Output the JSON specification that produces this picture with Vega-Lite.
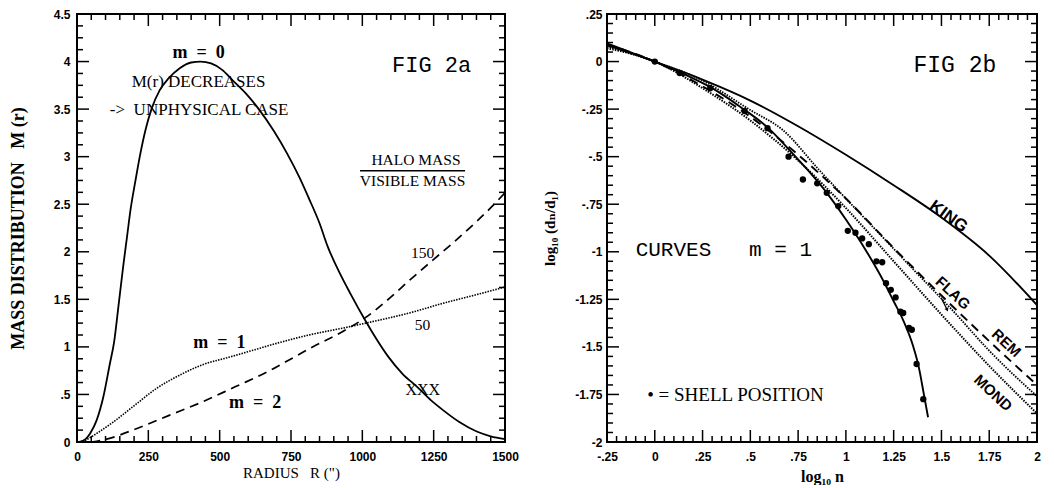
{
  "$schema": "https://vega.github.io/schema/vega-lite/v6.json",
  "background": "white",
  "padding": {"left": 8, "top": 7, "right": 4, "bottom": 0},
  "bounds": "flush",
  "spacing": 102,
  "config": {
    "view": {"stroke": "black", "strokeWidth": 2},
    "axis": {
      "domain": false, "grid": false, "ticks": false,
      "labelFont": "Liberation Sans", "labelFontWeight": "bold", "labelFontSize": 12, "labelColor": "black",
      "labelOverlap": false, "labelFlush": false,
      "titleFont": "Liberation Serif, DejaVu Serif", "titleColor": "black", "titleFontSize": 15, "titleFontWeight": "bold"
    }
  },
  "datasets": {
    "a_xt": [
      {"v": 0, "k": "M"}, {"v": 50, "k": "m"}, {"v": 100, "k": "m"}, {"v": 150, "k": "m"}, {"v": 200, "k": "m"},
      {"v": 250, "k": "M"}, {"v": 300, "k": "m"}, {"v": 350, "k": "m"}, {"v": 400, "k": "m"}, {"v": 450, "k": "m"},
      {"v": 500, "k": "M"}, {"v": 550, "k": "m"}, {"v": 600, "k": "m"}, {"v": 650, "k": "m"}, {"v": 700, "k": "m"},
      {"v": 750, "k": "M"}, {"v": 800, "k": "m"}, {"v": 850, "k": "m"}, {"v": 900, "k": "m"}, {"v": 950, "k": "m"},
      {"v": 1000, "k": "M"}, {"v": 1050, "k": "m"}, {"v": 1100, "k": "m"}, {"v": 1150, "k": "m"}, {"v": 1200, "k": "m"},
      {"v": 1250, "k": "M"}, {"v": 1300, "k": "m"}, {"v": 1350, "k": "m"}, {"v": 1400, "k": "m"}, {"v": 1450, "k": "m"},
      {"v": 1500, "k": "M"}
    ],
    "a_yt": [
      {"v": 0, "k": "M"}, {"v": 0.125, "k": "m"}, {"v": 0.25, "k": "m"}, {"v": 0.375, "k": "m"},
      {"v": 0.5, "k": "M"}, {"v": 0.625, "k": "m"}, {"v": 0.75, "k": "m"}, {"v": 0.875, "k": "m"},
      {"v": 1, "k": "M"}, {"v": 1.125, "k": "m"}, {"v": 1.25, "k": "m"}, {"v": 1.375, "k": "m"},
      {"v": 1.5, "k": "M"}, {"v": 1.625, "k": "m"}, {"v": 1.75, "k": "m"}, {"v": 1.875, "k": "m"},
      {"v": 2, "k": "M"}, {"v": 2.125, "k": "m"}, {"v": 2.25, "k": "m"}, {"v": 2.375, "k": "m"},
      {"v": 2.5, "k": "M"}, {"v": 2.625, "k": "m"}, {"v": 2.75, "k": "m"}, {"v": 2.875, "k": "m"},
      {"v": 3, "k": "M"}, {"v": 3.125, "k": "m"}, {"v": 3.25, "k": "m"}, {"v": 3.375, "k": "m"},
      {"v": 3.5, "k": "M"}, {"v": 3.625, "k": "m"}, {"v": 3.75, "k": "m"}, {"v": 3.875, "k": "m"},
      {"v": 4, "k": "M"}, {"v": 4.125, "k": "m"}, {"v": 4.25, "k": "m"}, {"v": 4.375, "k": "m"},
      {"v": 4.5, "k": "M"}
    ],
    "b_xt": [
      {"v": -0.25, "k": "M"}, {"v": -0.2, "k": "m"}, {"v": -0.15, "k": "m"}, {"v": -0.1, "k": "m"}, {"v": -0.05, "k": "m"},
      {"v": 0, "k": "M"}, {"v": 0.05, "k": "m"}, {"v": 0.1, "k": "m"}, {"v": 0.15, "k": "m"}, {"v": 0.2, "k": "m"},
      {"v": 0.25, "k": "M"}, {"v": 0.3, "k": "m"}, {"v": 0.35, "k": "m"}, {"v": 0.4, "k": "m"}, {"v": 0.45, "k": "m"},
      {"v": 0.5, "k": "M"}, {"v": 0.55, "k": "m"}, {"v": 0.6, "k": "m"}, {"v": 0.65, "k": "m"}, {"v": 0.7, "k": "m"},
      {"v": 0.75, "k": "M"}, {"v": 0.8, "k": "m"}, {"v": 0.85, "k": "m"}, {"v": 0.9, "k": "m"}, {"v": 0.95, "k": "m"},
      {"v": 1, "k": "M"}, {"v": 1.05, "k": "m"}, {"v": 1.1, "k": "m"}, {"v": 1.15, "k": "m"}, {"v": 1.2, "k": "m"},
      {"v": 1.25, "k": "M"}, {"v": 1.3, "k": "m"}, {"v": 1.35, "k": "m"}, {"v": 1.4, "k": "m"}, {"v": 1.45, "k": "m"},
      {"v": 1.5, "k": "M"}, {"v": 1.55, "k": "m"}, {"v": 1.6, "k": "m"}, {"v": 1.65, "k": "m"}, {"v": 1.7, "k": "m"},
      {"v": 1.75, "k": "M"}, {"v": 1.8, "k": "m"}, {"v": 1.85, "k": "m"}, {"v": 1.9, "k": "m"}, {"v": 1.95, "k": "m"},
      {"v": 2, "k": "M"}
    ],
    "b_yt": [
      {"v": -2, "k": "M"}, {"v": -1.95, "k": "m"}, {"v": -1.9, "k": "m"}, {"v": -1.85, "k": "m"}, {"v": -1.8, "k": "m"},
      {"v": -1.75, "k": "M"}, {"v": -1.7, "k": "m"}, {"v": -1.65, "k": "m"}, {"v": -1.6, "k": "m"}, {"v": -1.55, "k": "m"},
      {"v": -1.5, "k": "M"}, {"v": -1.45, "k": "m"}, {"v": -1.4, "k": "m"}, {"v": -1.35, "k": "m"}, {"v": -1.3, "k": "m"},
      {"v": -1.25, "k": "M"}, {"v": -1.2, "k": "m"}, {"v": -1.15, "k": "m"}, {"v": -1.1, "k": "m"}, {"v": -1.05, "k": "m"},
      {"v": -1, "k": "M"}, {"v": -0.95, "k": "m"}, {"v": -0.9, "k": "m"}, {"v": -0.85, "k": "m"}, {"v": -0.8, "k": "m"},
      {"v": -0.75, "k": "M"}, {"v": -0.7, "k": "m"}, {"v": -0.65, "k": "m"}, {"v": -0.6, "k": "m"}, {"v": -0.55, "k": "m"},
      {"v": -0.5, "k": "M"}, {"v": -0.45, "k": "m"}, {"v": -0.4, "k": "m"}, {"v": -0.35, "k": "m"}, {"v": -0.3, "k": "m"},
      {"v": -0.25, "k": "M"}, {"v": -0.2, "k": "m"}, {"v": -0.15, "k": "m"}, {"v": -0.1, "k": "m"}, {"v": -0.05, "k": "m"},
      {"v": 0, "k": "M"}, {"v": 0.05, "k": "m"}, {"v": 0.1, "k": "m"}, {"v": 0.15, "k": "m"}, {"v": 0.2, "k": "m"},
      {"v": 0.25, "k": "M"}
    ],
    "a_curves": [
      {"series": "m0", "r": 8, "m": 0}, {"series": "m0", "r": 30, "m": 0.03}, {"series": "m0", "r": 46, "m": 0.09},
      {"series": "m0", "r": 69, "m": 0.23}, {"series": "m0", "r": 92, "m": 0.47}, {"series": "m0", "r": 115, "m": 0.82},
      {"series": "m0", "r": 130, "m": 1.05}, {"series": "m0", "r": 145, "m": 1.42}, {"series": "m0", "r": 162, "m": 1.85},
      {"series": "m0", "r": 175, "m": 2.15}, {"series": "m0", "r": 188, "m": 2.45}, {"series": "m0", "r": 205, "m": 2.75},
      {"series": "m0", "r": 220, "m": 3.0}, {"series": "m0", "r": 240, "m": 3.28}, {"series": "m0", "r": 261, "m": 3.5},
      {"series": "m0", "r": 290, "m": 3.7}, {"series": "m0", "r": 320, "m": 3.82}, {"series": "m0", "r": 360, "m": 3.93},
      {"series": "m0", "r": 400, "m": 3.99}, {"series": "m0", "r": 433, "m": 4.0}, {"series": "m0", "r": 470, "m": 3.98},
      {"series": "m0", "r": 510, "m": 3.91}, {"series": "m0", "r": 543, "m": 3.81}, {"series": "m0", "r": 590, "m": 3.67},
      {"series": "m0", "r": 637, "m": 3.5}, {"series": "m0", "r": 690, "m": 3.27}, {"series": "m0", "r": 737, "m": 3.03},
      {"series": "m0", "r": 780, "m": 2.78}, {"series": "m0", "r": 813, "m": 2.56}, {"series": "m0", "r": 850, "m": 2.3},
      {"series": "m0", "r": 878, "m": 2.06}, {"series": "m0", "r": 920, "m": 1.78}, {"series": "m0", "r": 960, "m": 1.55},
      {"series": "m0", "r": 1010, "m": 1.28}, {"series": "m0", "r": 1050, "m": 1.08}, {"series": "m0", "r": 1090, "m": 0.9},
      {"series": "m0", "r": 1140, "m": 0.72}, {"series": "m0", "r": 1192, "m": 0.58}, {"series": "m0", "r": 1240, "m": 0.44},
      {"series": "m0", "r": 1285, "m": 0.33}, {"series": "m0", "r": 1340, "m": 0.21}, {"series": "m0", "r": 1401, "m": 0.11},
      {"series": "m0", "r": 1450, "m": 0.06}, {"series": "m0", "r": 1500, "m": 0.03},
      {"series": "m1", "r": 20, "m": 0}, {"series": "m1", "r": 69, "m": 0.09}, {"series": "m1", "r": 127, "m": 0.21},
      {"series": "m1", "r": 208, "m": 0.4}, {"series": "m1", "r": 277, "m": 0.56}, {"series": "m1", "r": 358, "m": 0.7},
      {"series": "m1", "r": 438, "m": 0.81}, {"series": "m1", "r": 531, "m": 0.89}, {"series": "m1", "r": 623, "m": 0.97},
      {"series": "m1", "r": 703, "m": 1.04}, {"series": "m1", "r": 820, "m": 1.13}, {"series": "m1", "r": 936, "m": 1.2},
      {"series": "m1", "r": 1012, "m": 1.25}, {"series": "m1", "r": 1169, "m": 1.36}, {"series": "m1", "r": 1285, "m": 1.46},
      {"series": "m1", "r": 1401, "m": 1.55}, {"series": "m1", "r": 1500, "m": 1.63},
      {"series": "m2", "r": 50, "m": 0}, {"series": "m2", "r": 104, "m": 0.03}, {"series": "m2", "r": 208, "m": 0.14},
      {"series": "m2", "r": 323, "m": 0.28}, {"series": "m2", "r": 438, "m": 0.42}, {"series": "m2", "r": 554, "m": 0.58},
      {"series": "m2", "r": 669, "m": 0.74}, {"series": "m2", "r": 730, "m": 0.84}, {"series": "m2", "r": 820, "m": 0.99},
      {"series": "m2", "r": 936, "m": 1.17}, {"series": "m2", "r": 1012, "m": 1.31}, {"series": "m2", "r": 1087, "m": 1.49},
      {"series": "m2", "r": 1169, "m": 1.71}, {"series": "m2", "r": 1250, "m": 1.92}, {"series": "m2", "r": 1320, "m": 2.1},
      {"series": "m2", "r": 1401, "m": 2.32}, {"series": "m2", "r": 1459, "m": 2.49}, {"series": "m2", "r": 1500, "m": 2.62}
    ],
    "a_text": [
      {"kind": "big", "x": 1243, "y": 3.96, "label": "FIG 2a"},
      {"kind": "lab", "x": 426, "y": 4.09, "label": "m\u00a0\u00a0=\u00a0\u00a00"},
      {"kind": "lab", "x": 499, "y": 1.04, "label": "m\u00a0\u00a0=\u00a0\u00a01"},
      {"kind": "lab", "x": 624, "y": 0.41, "label": "m\u00a0\u00a0=\u00a0\u00a02"},
      {"kind": "note", "x": 426, "y": 3.79, "label": "M(r) DECREASES"},
      {"kind": "note", "x": 428, "y": 3.49, "label": "->\u00a0\u00a0UNPHYSICAL CASE"},
      {"kind": "note2", "x": 1188, "y": 2.97, "label": "HALO MASS"},
      {"kind": "note2", "x": 1176, "y": 2.74, "label": "VISIBLE MASS"},
      {"kind": "note2", "x": 1211, "y": 1.985, "label": "150"},
      {"kind": "note2", "x": 1211, "y": 1.232, "label": "50"},
      {"kind": "xxx", "x": 1212, "y": 0.549, "label": "XXX"}
    ],
    "a_rules": [{"x": 992, "x2": 1360, "y": 2.853}],
    "b_curves": [
      {"series": "king", "n": -0.25, "d": 0.095}, {"series": "king", "n": 0, "d": 0}, {"series": "king", "n": 0.25, "d": -0.095},
      {"series": "king", "n": 0.5, "d": -0.205}, {"series": "king", "n": 0.75, "d": -0.34}, {"series": "king", "n": 1.0, "d": -0.49},
      {"series": "king", "n": 1.25, "d": -0.65}, {"series": "king", "n": 1.5, "d": -0.82}, {"series": "king", "n": 1.75, "d": -1.02},
      {"series": "king", "n": 2.0, "d": -1.28},
      {"series": "fit", "n": -0.25, "d": 0.085}, {"series": "fit", "n": 0, "d": 0}, {"series": "fit", "n": 0.15, "d": -0.065},
      {"series": "fit", "n": 0.3, "d": -0.14}, {"series": "fit", "n": 0.45, "d": -0.24}, {"series": "fit", "n": 0.6, "d": -0.355},
      {"series": "fit", "n": 0.7, "d": -0.46}, {"series": "fit", "n": 0.8, "d": -0.57}, {"series": "fit", "n": 0.9, "d": -0.69},
      {"series": "fit", "n": 1.0, "d": -0.83}, {"series": "fit", "n": 1.1, "d": -0.985}, {"series": "fit", "n": 1.2, "d": -1.16},
      {"series": "fit", "n": 1.25, "d": -1.26}, {"series": "fit", "n": 1.3, "d": -1.36}, {"series": "fit", "n": 1.35, "d": -1.49},
      {"series": "fit", "n": 1.38, "d": -1.6}, {"series": "fit", "n": 1.41, "d": -1.76}, {"series": "fit", "n": 1.43, "d": -1.87},
      {"series": "flag", "n": -0.25, "d": 0.08}, {"series": "flag", "n": 0, "d": 0}, {"series": "flag", "n": 0.25, "d": -0.1},
      {"series": "flag", "n": 0.5, "d": -0.255}, {"series": "flag", "n": 0.67, "d": -0.36}, {"series": "flag", "n": 0.86, "d": -0.57},
      {"series": "flag", "n": 1.0, "d": -0.72}, {"series": "flag", "n": 1.18, "d": -0.91}, {"series": "flag", "n": 1.35, "d": -1.09},
      {"series": "flag", "n": 1.56, "d": -1.31}, {"series": "flag", "n": 1.75, "d": -1.52}, {"series": "flag", "n": 2.0, "d": -1.76},
      {"series": "rem", "n": -0.25, "d": 0.09}, {"series": "rem", "n": 0, "d": 0}, {"series": "rem", "n": 0.25, "d": -0.13},
      {"series": "rem", "n": 0.5, "d": -0.29}, {"series": "rem", "n": 0.75, "d": -0.49}, {"series": "rem", "n": 1.0, "d": -0.72},
      {"series": "rem", "n": 1.25, "d": -0.98}, {"series": "rem", "n": 1.5, "d": -1.23}, {"series": "rem", "n": 1.75, "d": -1.47},
      {"series": "rem", "n": 2.0, "d": -1.7},
      {"series": "mond", "n": -0.25, "d": 0.07}, {"series": "mond", "n": 0, "d": 0}, {"series": "mond", "n": 0.25, "d": -0.14},
      {"series": "mond", "n": 0.5, "d": -0.31}, {"series": "mond", "n": 0.75, "d": -0.52}, {"series": "mond", "n": 1.0, "d": -0.77},
      {"series": "mond", "n": 1.25, "d": -1.05}, {"series": "mond", "n": 1.5, "d": -1.33}, {"series": "mond", "n": 1.75, "d": -1.6},
      {"series": "mond", "n": 2.0, "d": -1.85}
    ],
    "b_dots": [
      {"n": 0, "d": 0}, {"n": 0.13, "d": -0.06}, {"n": 0.29, "d": -0.14}, {"n": 0.47, "d": -0.26}, {"n": 0.59, "d": -0.35},
      {"n": 0.7, "d": -0.5}, {"n": 0.775, "d": -0.62}, {"n": 0.85, "d": -0.64}, {"n": 0.9, "d": -0.69}, {"n": 0.96, "d": -0.76},
      {"n": 1.01, "d": -0.89}, {"n": 1.05, "d": -0.9}, {"n": 1.085, "d": -0.93}, {"n": 1.12, "d": -0.96}, {"n": 1.16, "d": -1.05},
      {"n": 1.19, "d": -1.055}, {"n": 1.21, "d": -1.165}, {"n": 1.235, "d": -1.2}, {"n": 1.26, "d": -1.24}, {"n": 1.285, "d": -1.315},
      {"n": 1.3, "d": -1.322}, {"n": 1.33, "d": -1.4}, {"n": 1.345, "d": -1.41}, {"n": 1.37, "d": -1.59}, {"n": 1.405, "d": -1.775}
    ],
    "b_text": [
      {"kind": "big", "x": 1.57, "y": -0.02, "label": "FIG 2b"},
      {"kind": "curves", "x": -0.1, "y": -0.99, "label": "CURVES\u00a0\u00a0\u00a0m = 1"},
      {"kind": "shell", "x": -0.04, "y": -1.751, "label": "• = SHELL POSITION"},
      {"kind": "king", "x": 1.536, "y": -0.815, "label": "KING"},
      {"kind": "rot", "x": 1.56, "y": -1.217, "label": "FLAG"},
      {"kind": "rot", "x": 1.84, "y": -1.48, "label": "REM"},
      {"kind": "rot", "x": 1.77, "y": -1.742, "label": "MOND"}
    ],
    "b_arrow": [{"x": 1.5, "y": -1.245, "x2": 1.53, "y2": -1.305}]
  },
  "hconcat": [
    {
      "width": 428, "height": 428,
      "layer": [
        {
          "data": {"name": "a_curves"},
          "transform": [{"filter": "datum.series == 'm0'"}],
          "mark": {"type": "line", "color": "black", "interpolate": "monotone", "strokeWidth": 1.8},
          "encoding": {
            "x": {"field": "r", "type": "quantitative", "scale": {"domain": [0, 1500], "nice": false, "zero": false},
              "axis": {"orient": "bottom", "title": "RADIUS\u00a0\u00a0\u00a0R (\")", "titleFontWeight": "normal", "titlePadding": 3, "labelPadding": 9,
                "values": [0, 250, 500, 750, 1000, 1250, 1500], "format": "d"}},
            "y": {"field": "m", "type": "quantitative", "scale": {"domain": [0, 4.5], "nice": false, "zero": false},
              "axis": {"orient": "left", "title": "MASS DISTRIBUTION\u00a0\u00a0\u00a0M (r)", "titleFontSize": 18, "titlePadding": 26, "labelPadding": 7,
                "values": [0, 0.5, 1, 1.5, 2, 2.5, 3, 3.5, 4, 4.5],
                "labelExpr": "replace(toString(datum.value), '0.', '.')"}}
          }
        },
        {
          "data": {"name": "a_curves"},
          "transform": [{"filter": "datum.series != 'm0'"}],
          "mark": {"type": "line", "color": "black", "interpolate": "monotone"},
          "encoding": {
            "x": {"field": "r", "type": "quantitative"},
            "y": {"field": "m", "type": "quantitative"},
            "strokeDash": {"field": "series", "type": "nominal", "scale": {"domain": ["m1", "m2"], "range": [[1.5, 1.2], [9, 6]]}, "legend": null},
            "strokeWidth": {"field": "series", "type": "nominal", "scale": {"domain": ["m1", "m2"], "range": [1.6, 2]}, "legend": null}
          }
        },
        {
          "data": {"name": "a_xt"}, "transform": [{"filter": "datum.k == 'M'"}],
          "mark": {"type": "rule", "color": "black", "strokeWidth": 1.5, "y2Offset": -12},
          "encoding": {"x": {"field": "v", "type": "quantitative"}, "y": {"datum": 0, "type": "quantitative"}, "y2": {"datum": 0}}
        },
        {
          "data": {"name": "a_xt"}, "transform": [{"filter": "datum.k == 'm'"}],
          "mark": {"type": "rule", "color": "black", "strokeWidth": 1.5, "y2Offset": -6},
          "encoding": {"x": {"field": "v", "type": "quantitative"}, "y": {"datum": 0, "type": "quantitative"}, "y2": {"datum": 0}}
        },
        {
          "data": {"name": "a_xt"}, "transform": [{"filter": "datum.k == 'M'"}],
          "mark": {"type": "rule", "color": "black", "strokeWidth": 1.5, "y2Offset": 12},
          "encoding": {"x": {"field": "v", "type": "quantitative"}, "y": {"datum": 4.5, "type": "quantitative"}, "y2": {"datum": 4.5}}
        },
        {
          "data": {"name": "a_xt"}, "transform": [{"filter": "datum.k == 'm'"}],
          "mark": {"type": "rule", "color": "black", "strokeWidth": 1.5, "y2Offset": 6},
          "encoding": {"x": {"field": "v", "type": "quantitative"}, "y": {"datum": 4.5, "type": "quantitative"}, "y2": {"datum": 4.5}}
        },
        {
          "data": {"name": "a_yt"}, "transform": [{"filter": "datum.k == 'M'"}],
          "mark": {"type": "rule", "color": "black", "strokeWidth": 1.5, "x2Offset": 12},
          "encoding": {"y": {"field": "v", "type": "quantitative"}, "x": {"datum": 0, "type": "quantitative"}, "x2": {"datum": 0}}
        },
        {
          "data": {"name": "a_yt"}, "transform": [{"filter": "datum.k == 'm'"}],
          "mark": {"type": "rule", "color": "black", "strokeWidth": 1.5, "x2Offset": 6},
          "encoding": {"y": {"field": "v", "type": "quantitative"}, "x": {"datum": 0, "type": "quantitative"}, "x2": {"datum": 0}}
        },
        {
          "data": {"name": "a_yt"}, "transform": [{"filter": "datum.k == 'M'"}],
          "mark": {"type": "rule", "color": "black", "strokeWidth": 1.5, "x2Offset": -12},
          "encoding": {"y": {"field": "v", "type": "quantitative"}, "x": {"datum": 1500, "type": "quantitative"}, "x2": {"datum": 1500}}
        },
        {
          "data": {"name": "a_yt"}, "transform": [{"filter": "datum.k == 'm'"}],
          "mark": {"type": "rule", "color": "black", "strokeWidth": 1.5, "x2Offset": -6},
          "encoding": {"y": {"field": "v", "type": "quantitative"}, "x": {"datum": 1500, "type": "quantitative"}, "x2": {"datum": 1500}}
        },
        {
          "data": {"name": "a_text"},
          "transform": [{"filter": "datum.kind == 'big'"}],
          "mark": {"type": "text", "font": "Liberation Mono", "fontSize": 22, "align": "center", "baseline": "middle", "color": "black"},
          "encoding": {"x": {"field": "x", "type": "quantitative"}, "y": {"field": "y", "type": "quantitative"}, "text": {"field": "label"}}
        },
        {
          "data": {"name": "a_text"},
          "transform": [{"filter": "datum.kind == 'lab'"}],
          "mark": {"type": "text", "font": "Liberation Serif", "fontWeight": "bold", "fontSize": 18, "align": "center", "baseline": "middle", "color": "black"},
          "encoding": {"x": {"field": "x", "type": "quantitative"}, "y": {"field": "y", "type": "quantitative"}, "text": {"field": "label"}}
        },
        {
          "data": {"name": "a_text"},
          "transform": [{"filter": "datum.kind == 'note'"}],
          "mark": {"type": "text", "font": "Liberation Serif", "fontSize": 17, "align": "center", "baseline": "middle", "color": "black"},
          "encoding": {"x": {"field": "x", "type": "quantitative"}, "y": {"field": "y", "type": "quantitative"}, "text": {"field": "label"}}
        },
        {
          "data": {"name": "a_text"},
          "transform": [{"filter": "datum.kind == 'note2'"}],
          "mark": {"type": "text", "font": "Liberation Serif", "fontSize": 15.5, "align": "center", "baseline": "middle", "color": "black"},
          "encoding": {"x": {"field": "x", "type": "quantitative"}, "y": {"field": "y", "type": "quantitative"}, "text": {"field": "label"}}
        },
        {
          "data": {"name": "a_text"},
          "transform": [{"filter": "datum.kind == 'xxx'"}],
          "mark": {"type": "text", "font": "Liberation Serif", "fontSize": 16, "align": "center", "baseline": "middle", "color": "black"},
          "encoding": {"x": {"field": "x", "type": "quantitative"}, "y": {"field": "y", "type": "quantitative"}, "text": {"field": "label"}}
        },
        {
          "data": {"name": "a_rules"},
          "mark": {"type": "rule", "color": "black", "strokeWidth": 1.5},
          "encoding": {"x": {"field": "x", "type": "quantitative"}, "x2": {"field": "x2"}, "y": {"field": "y", "type": "quantitative"}}
        }
      ]
    },
    {
      "width": 430, "height": 428,
      "layer": [
        {
          "data": {"name": "b_curves"},
          "transform": [{"filter": "datum.series == 'king' || datum.series == 'fit'"}],
          "mark": {"type": "line", "color": "black", "interpolate": "monotone", "strokeWidth": 1.9},
          "encoding": {
            "detail": {"field": "series", "type": "nominal"},
            "x": {"field": "n", "type": "quantitative", "scale": {"domain": [-0.25, 2], "nice": false, "zero": false},
              "axis": {"orient": "bottom", "title": "log₁₀ n", "titleFontSize": 16, "titlePadding": 6, "labelPadding": 9,
                "values": [-0.25, 0, 0.25, 0.5, 0.75, 1, 1.25, 1.5, 1.75, 2],
                "labelExpr": "replace(toString(datum.value), '0.', '.')"}},
            "y": {"field": "d", "type": "quantitative", "scale": {"domain": [-2, 0.25], "nice": false, "zero": false},
              "axis": {"orient": "left", "title": "log₁₀ (dₙ/d₁)", "titlePadding": 17, "labelPadding": 5,
                "values": [-2, -1.75, -1.5, -1.25, -1, -0.75, -0.5, -0.25, 0, 0.25],
                "labelExpr": "replace(toString(datum.value), '0.', '.')"}}
          }
        },
        {
          "data": {"name": "b_curves"},
          "transform": [{"filter": "datum.series != 'king' && datum.series != 'fit'"}],
          "mark": {"type": "line", "color": "black", "interpolate": "monotone"},
          "encoding": {
            "x": {"field": "n", "type": "quantitative"},
            "y": {"field": "d", "type": "quantitative"},
            "strokeDash": {"field": "series", "type": "nominal", "scale": {"domain": ["flag", "rem", "mond"], "range": [[1, 2], [14, 6], [8, 6]]}, "legend": null},
            "strokeWidth": {"field": "series", "type": "nominal", "scale": {"domain": ["flag", "rem", "mond"], "range": [1.1, 1.6, 1.6]}, "legend": null}
          }
        },
        {
          "data": {"name": "b_xt"}, "transform": [{"filter": "datum.k == 'M'"}],
          "mark": {"type": "rule", "color": "black", "strokeWidth": 1.5, "y2Offset": -12},
          "encoding": {"x": {"field": "v", "type": "quantitative"}, "y": {"datum": -2, "type": "quantitative"}, "y2": {"datum": -2}}
        },
        {
          "data": {"name": "b_xt"}, "transform": [{"filter": "datum.k == 'm'"}],
          "mark": {"type": "rule", "color": "black", "strokeWidth": 1.5, "y2Offset": -6},
          "encoding": {"x": {"field": "v", "type": "quantitative"}, "y": {"datum": -2, "type": "quantitative"}, "y2": {"datum": -2}}
        },
        {
          "data": {"name": "b_xt"}, "transform": [{"filter": "datum.k == 'M'"}],
          "mark": {"type": "rule", "color": "black", "strokeWidth": 1.5, "y2Offset": 12},
          "encoding": {"x": {"field": "v", "type": "quantitative"}, "y": {"datum": 0.25, "type": "quantitative"}, "y2": {"datum": 0.25}}
        },
        {
          "data": {"name": "b_xt"}, "transform": [{"filter": "datum.k == 'm'"}],
          "mark": {"type": "rule", "color": "black", "strokeWidth": 1.5, "y2Offset": 6},
          "encoding": {"x": {"field": "v", "type": "quantitative"}, "y": {"datum": 0.25, "type": "quantitative"}, "y2": {"datum": 0.25}}
        },
        {
          "data": {"name": "b_yt"}, "transform": [{"filter": "datum.k == 'M'"}],
          "mark": {"type": "rule", "color": "black", "strokeWidth": 1.5, "x2Offset": 12},
          "encoding": {"y": {"field": "v", "type": "quantitative"}, "x": {"datum": -0.25, "type": "quantitative"}, "x2": {"datum": -0.25}}
        },
        {
          "data": {"name": "b_yt"}, "transform": [{"filter": "datum.k == 'm'"}],
          "mark": {"type": "rule", "color": "black", "strokeWidth": 1.5, "x2Offset": 6},
          "encoding": {"y": {"field": "v", "type": "quantitative"}, "x": {"datum": -0.25, "type": "quantitative"}, "x2": {"datum": -0.25}}
        },
        {
          "data": {"name": "b_yt"}, "transform": [{"filter": "datum.k == 'M'"}],
          "mark": {"type": "rule", "color": "black", "strokeWidth": 1.5, "x2Offset": -12},
          "encoding": {"y": {"field": "v", "type": "quantitative"}, "x": {"datum": 2, "type": "quantitative"}, "x2": {"datum": 2}}
        },
        {
          "data": {"name": "b_yt"}, "transform": [{"filter": "datum.k == 'm'"}],
          "mark": {"type": "rule", "color": "black", "strokeWidth": 1.5, "x2Offset": -6},
          "encoding": {"y": {"field": "v", "type": "quantitative"}, "x": {"datum": 2, "type": "quantitative"}, "x2": {"datum": 2}}
        },
        {
          "data": {"name": "b_dots"},
          "mark": {"type": "point", "filled": true, "color": "black", "size": 40, "opacity": 1},
          "encoding": {"x": {"field": "n", "type": "quantitative"}, "y": {"field": "d", "type": "quantitative"}}
        },
        {
          "data": {"name": "b_text"},
          "transform": [{"filter": "datum.kind == 'big'"}],
          "mark": {"type": "text", "font": "Liberation Mono", "fontSize": 23, "align": "center", "baseline": "middle", "color": "black"},
          "encoding": {"x": {"field": "x", "type": "quantitative"}, "y": {"field": "y", "type": "quantitative"}, "text": {"field": "label"}}
        },
        {
          "data": {"name": "b_text"},
          "transform": [{"filter": "datum.kind == 'curves'"}],
          "mark": {"type": "text", "font": "Liberation Mono", "fontSize": 21, "align": "left", "baseline": "middle", "color": "black"},
          "encoding": {"x": {"field": "x", "type": "quantitative"}, "y": {"field": "y", "type": "quantitative"}, "text": {"field": "label"}}
        },
        {
          "data": {"name": "b_text"},
          "transform": [{"filter": "datum.kind == 'shell'"}],
          "mark": {"type": "text", "font": "Liberation Serif", "fontSize": 19, "align": "left", "baseline": "middle", "color": "black"},
          "encoding": {"x": {"field": "x", "type": "quantitative"}, "y": {"field": "y", "type": "quantitative"}, "text": {"field": "label"}}
        },
        {
          "data": {"name": "b_text"},
          "transform": [{"filter": "datum.kind == 'king'"}],
          "mark": {"type": "text", "font": "Liberation Sans", "fontWeight": "bold", "fontSize": 17, "angle": 36, "align": "center", "baseline": "middle", "color": "black"},
          "encoding": {"x": {"field": "x", "type": "quantitative"}, "y": {"field": "y", "type": "quantitative"}, "text": {"field": "label"}}
        },
        {
          "data": {"name": "b_text"},
          "transform": [{"filter": "datum.kind == 'rot'"}],
          "mark": {"type": "text", "font": "Liberation Sans", "fontWeight": "bold", "fontSize": 15, "angle": 43, "align": "center", "baseline": "middle", "color": "black"},
          "encoding": {"x": {"field": "x", "type": "quantitative"}, "y": {"field": "y", "type": "quantitative"}, "text": {"field": "label"}}
        },
        {
          "data": {"name": "b_arrow"},
          "mark": {"type": "rule", "color": "black", "strokeWidth": 1.3},
          "encoding": {"x": {"field": "x", "type": "quantitative"}, "y": {"field": "y", "type": "quantitative"}, "x2": {"field": "x2"}, "y2": {"field": "y2"}}
        },
        {
          "data": {"name": "b_arrow"},
          "mark": {"type": "point", "shape": "triangle-down", "filled": true, "color": "black", "size": 18, "angle": -25, "opacity": 1},
          "encoding": {"x": {"field": "x2", "type": "quantitative"}, "y": {"field": "y2", "type": "quantitative"}}
        }
      ]
    }
  ]
}
